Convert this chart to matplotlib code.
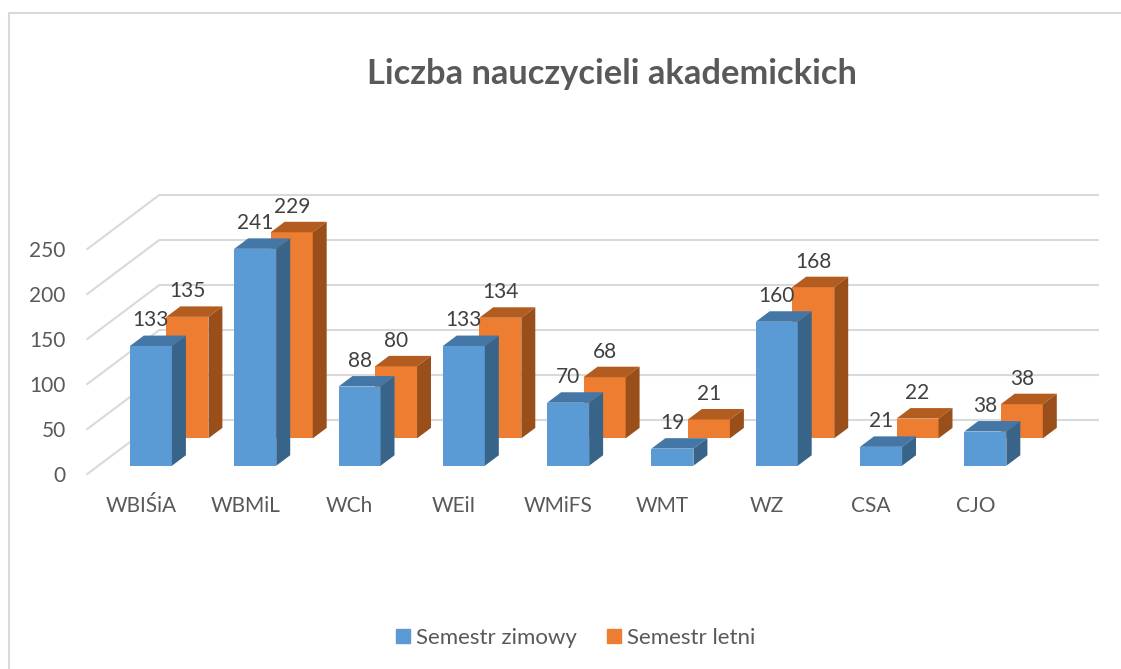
import numpy as np
import matplotlib
matplotlib.use('Agg')
import matplotlib.pyplot as plt
from matplotlib.lines import Line2D
from matplotlib.patches import Patch

categories = ['WBIŚiA', 'WBMiL', 'WCh', 'WEiI', 'WMiFS', 'WMT', 'WZ', 'CSA', 'CJO']
zimowy = [133, 241, 88, 133, 70, 19, 160, 21, 38]
letni = [135, 229, 80, 134, 68, 21, 168, 22, 38]
y_ticks = [0, 50, 100, 150, 200, 250]

W, H = 1121, 669
plt.rcParams['font.family'] = ['Lato', 'DejaVu Sans']

# fake 3d: a point at depth z (0 front, 1 back wall) gets shifted by z*(DX, DY)
DX = 0.69   # category units
DY = 60     # value units
bar_x = 0.303
bar_w = 0.403
bar_d = 0.194

def shift(x, y, z):
    return x + z * DX, y + z * DY

def draw_bars(ax, values, z, front, top, side, zorder):
    for i, v in enumerate(values):
        x0, y0 = shift(i + bar_x, 0, z)
        x1 = x0 + bar_w
        y1 = y0 + v
        ox = bar_d * DX
        oy = bar_d * DY
        ax.bar(x0, v, bar_w, bottom=y0, align='edge', color=front, zorder=zorder + i, clip_on=False)
        ax.fill([x0, x1, x1 + ox, x0 + ox], [y1, y1, y1 + oy, y1 + oy], color=top, lw=0, zorder=zorder + i, clip_on=False)
        ax.fill([x1, x1 + ox, x1 + ox, x1], [y0, y0 + oy, y1 + oy, y1], color=side, lw=0, zorder=zorder + i, clip_on=False)
        ax.annotate(str(v), (x0 + bar_w / 2, y1), xytext=(0, 18.4), textcoords='offset points',
                    ha='center', va='center', fontsize=15, color='#404040', zorder=50, annotation_clip=False)

fig = plt.figure(figsize=(W / 100, H / 100), dpi=100)
ax = fig.add_axes([87.3 / W, (H - 474) / H, 938.7 / W, 225 / H])
ax.set_xlim(0, len(categories))
ax.set_ylim(0, 250)
for s in ax.spines.values():
    s.set_visible(False)
ax.patch.set_visible(False)

for t in y_ticks:
    xs, ys = zip(shift(0, t, 0), shift(0, t, 1), shift(len(categories), t, 1))
    ax.plot(xs, ys, color='#d9d9d9', lw=1.5, clip_on=False, zorder=1, solid_joinstyle='miter')

draw_bars(ax, letni, 0.66, '#ED7D31', '#B35C20', '#9A4F1B', 10)
draw_bars(ax, zimowy, 0.153, '#5B9BD5', '#4477A6', '#38648A', 11)

ax.set_yticks(y_ticks)
ax.set_xticks(np.arange(len(categories)) + 0.515)
ax.set_xticklabels(categories)
ax.tick_params(axis='y', length=0, pad=15.5, labelsize=15, labelcolor='#595959')
ax.tick_params(axis='x', length=0, pad=15.5, labelsize=15, labelcolor='#595959')

fig.text(612 / W, 1 - 73.5 / H, 'Liczba nauczycieli akademickich', ha='center', va='center',
         fontsize=24.8, fontweight='bold', color='#595959')

handles = [Patch(color='#5B9BD5', label='Semestr zimowy'), Patch(color='#ED7D31', label='Semestr letni')]
fig.legend(handles=handles, ncol=2, loc='center', bbox_to_anchor=(576 / W, 1 - 638 / H), frameon=False,
           fontsize=16, labelcolor='#595959', handlelength=0.625, handleheight=0.625,
           handletextpad=0.27, columnspacing=1.35)

# chart frame
fig.add_artist(Line2D([8.5 / W, 8.5 / W, 1], [0, 1 - 13 / H, 1 - 13 / H], color='#d9d9d9', lw=1.5,
                      solid_joinstyle='miter'))

fig.savefig('out.png', dpi=100)
